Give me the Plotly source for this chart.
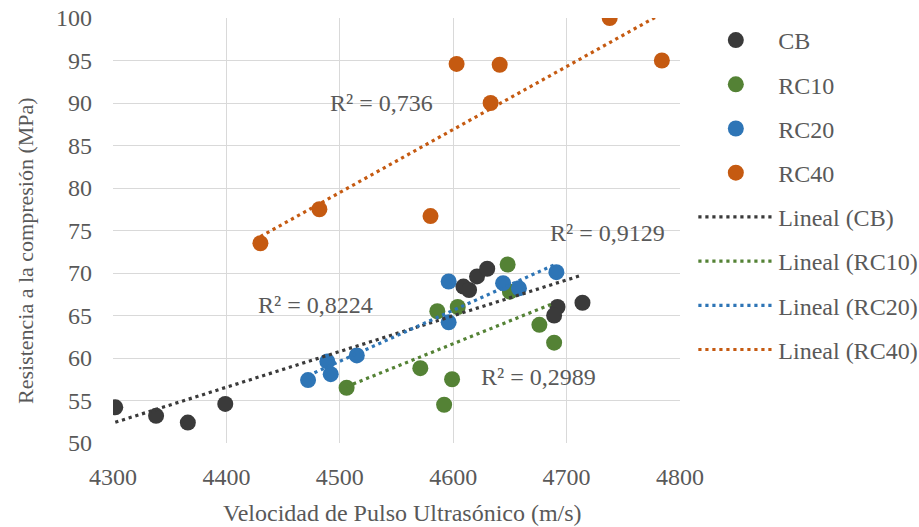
import numpy as np
import plotly.graph_objects as go

# Ultrasonic pulse velocity (m/s) and compressive strength (MPa) per mix
cb_v = [4302, 4338, 4366, 4399, 4609, 4614, 4621, 4630, 4692, 4689, 4714]
cb_f = [54.2, 53.2, 52.4, 54.6, 68.4, 68.0, 69.6, 70.5, 66.0, 65.0, 66.5]

rc10_v = [4506, 4571, 4586, 4592, 4599, 4604, 4648, 4650, 4676, 4689]
rc10_f = [56.5, 58.8, 65.5, 54.5, 57.5, 66.0, 71.0, 67.8, 63.9, 61.8]

rc20_v = [4472, 4489, 4492, 4515, 4596, 4596, 4644, 4658, 4691]
rc20_f = [57.4, 59.6, 58.1, 60.3, 69.0, 64.2, 68.8, 68.2, 70.1]

rc40_v = [4430, 4482, 4580, 4603, 4641, 4633, 4738, 4784]
rc40_f = [73.5, 77.5, 76.7, 94.6, 94.5, 90.0, 100.0, 95.0]

series_names = ["CB", "RC10", "RC20", "RC40"]
series_v = [cb_v, rc10_v, rc20_v, rc40_v]
series_f = [cb_f, rc10_f, rc20_f, rc40_f]
colors = ["#3a3a3a", "#548235", "#2e75b6", "#c55a11"]

# R² labels of the linear trendlines and where they sit (data coords)
r2_text = ["R² = 0,9129", "R² = 0,2989", "R² = 0,8224", "R² = 0,736"]
r2_pos = [(4736, 74.7), (4675, 57.8), (4479, 66.2), (4537, 90.0)]

x_ticks = [4300, 4400, 4500, 4600, 4700, 4800]
y_ticks = [50, 55, 60, 65, 70, 75, 80, 85, 90, 95, 100]

x_title = "Velocidad de Pulso Ultrasónico (m/s)"
y_title = "Resistencia a la compresión (MPa)"

FONT = "Liberation Serif"
GREY = "#595959"

W, H = 919, 527
M_L, M_R, M_T, M_B = 113, 239, 18, 84
plot_w = W - M_L - M_R
plot_h = H - M_T - M_B

fig = go.Figure()

for i, (name, v, f, c) in enumerate(zip(series_names, series_v, series_f, colors)):
    fig.add_trace(go.Scatter(
        x=v, y=f, mode="markers", name=name,
        marker=dict(size=16, color=c),
        legendgroup=name, legendrank=i + 1,
    ))

for i, (name, v, f, c) in enumerate(zip(series_names, series_v, series_f, colors)):
    slope, inter = np.polyfit(v, f, 1)
    xs = np.array([min(v), max(v)])
    fig.add_trace(go.Scatter(
        x=xs, y=slope * xs + inter, mode="lines", name=f"Lineal ({name})",
        line=dict(color=c, width=3.2, dash="3.2px,3.8px"),
        legendgroup="L" + name, legendrank=i + 5,
    ))

for txt, (x, y) in zip(r2_text, r2_pos):
    fig.add_annotation(x=x, y=y, text=txt, showarrow=False,
                       font=dict(family=FONT, size=24, color=GREY))

# axis titles, placed in paper coordinates
fig.add_annotation(xref="paper", yref="paper",
                   x=(402 - M_L) / plot_w, y=-(513 - M_T - plot_h) / plot_h,
                   xanchor="center", yanchor="middle",
                   text=x_title, showarrow=False,
                   font=dict(family=FONT, size=24, color=GREY))
fig.add_annotation(xref="paper", yref="paper",
                   x=-(M_L - 25) / plot_w, y=1 - (251 - M_T) / plot_h,
                   xanchor="center", yanchor="middle",
                   text=y_title, showarrow=False, textangle=-90,
                   font=dict(family=FONT, size=22, color=GREY))

axis_common = dict(
    showgrid=True, gridcolor="#d9d9d9", gridwidth=1.3,
    zeroline=False, showline=False,
    tickfont=dict(family=FONT, size=24, color=GREY),
    ticks="",
)

fig.update_xaxes(range=[4300, 4800], tickvals=x_ticks, ticklabelstandoff=17,
                 **axis_common)
fig.update_yaxes(range=[50, 100], tickvals=y_ticks, ticklabelstandoff=20,
                 **axis_common)

fig.update_layout(
    width=W, height=H,
    margin=dict(l=M_L, r=M_R, t=M_T, b=M_B, autoexpand=False),
    plot_bgcolor="white", paper_bgcolor="white",
    showlegend=True,
    legend=dict(
        x=1.0235, y=1.0, xanchor="left", yanchor="top",
        font=dict(family=FONT, size=24, color=GREY),
        tracegroupgap=10, itemwidth=75,
        bgcolor="rgba(0,0,0,0)",
    ),
)

fig.write_html("out.html")
